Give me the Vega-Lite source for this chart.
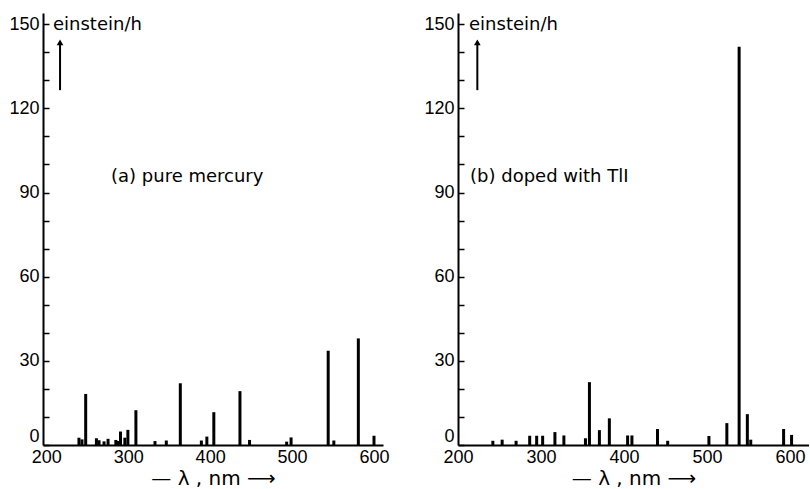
{
  "$schema": "https://vega.github.io/schema/vega-lite/v6.json",
  "padding": {"left": 8, "top": 13, "right": 0, "bottom": 0},
  "background": "white",
  "spacing": 33,
  "config": {
    "font": "Liberation Sans",
    "view": {"stroke": null},
    "axis": {
      "grid": false,
      "labelOverlap": false,
      "domainColor": "black",
      "domainWidth": 2,
      "tickColor": "black",
      "tickWidth": 1.5,
      "labelColor": "black",
      "labelFont": "Liberation Sans",
      "labelFontSize": 18,
      "titleFont": "DejaVu Sans",
      "titleFontSize": 20,
      "titleFontWeight": "normal",
      "titleColor": "black"
    }
  },
  "datasets": {
    "mercury": [
      {"nm": 239.9, "v": 2.6}, {"nm": 243.6, "v": 2.0}, {"nm": 248.1, "v": 18.2},
      {"nm": 261.2, "v": 2.4}, {"nm": 264.4, "v": 1.7}, {"nm": 270.5, "v": 1.3},
      {"nm": 275.4, "v": 2.2}, {"nm": 284.9, "v": 1.8}, {"nm": 287.0, "v": 1.4},
      {"nm": 290.6, "v": 4.8}, {"nm": 295.9, "v": 2.6}, {"nm": 299.6, "v": 5.4},
      {"nm": 309.4, "v": 12.4}, {"nm": 332.7, "v": 1.4}, {"nm": 346.5, "v": 1.6},
      {"nm": 363.6, "v": 22.0}, {"nm": 389.3, "v": 1.6}, {"nm": 396.0, "v": 3.0},
      {"nm": 404.5, "v": 11.7}, {"nm": 436.4, "v": 19.2}, {"nm": 448.1, "v": 1.8},
      {"nm": 493.4, "v": 1.2}, {"nm": 498.8, "v": 2.7}, {"nm": 544.1, "v": 33.6},
      {"nm": 551.0, "v": 1.6}, {"nm": 580.9, "v": 38.0}, {"nm": 600.0, "v": 3.3}
    ],
    "doped": [
      {"nm": 242.0, "v": 1.5}, {"nm": 253.2, "v": 1.9}, {"nm": 270.0, "v": 1.5},
      {"nm": 286.4, "v": 3.3}, {"nm": 294.8, "v": 3.3}, {"nm": 302.0, "v": 3.3},
      {"nm": 316.8, "v": 4.6}, {"nm": 327.6, "v": 3.4}, {"nm": 353.6, "v": 2.4},
      {"nm": 358.4, "v": 22.4}, {"nm": 370.4, "v": 5.3}, {"nm": 382.4, "v": 9.5},
      {"nm": 404.4, "v": 3.4}, {"nm": 409.6, "v": 3.4}, {"nm": 440.4, "v": 5.7},
      {"nm": 452.7, "v": 1.5}, {"nm": 502.4, "v": 3.2}, {"nm": 524.0, "v": 7.8},
      {"nm": 538.8, "v": 142.0}, {"nm": 548.7, "v": 11.0}, {"nm": 552.8, "v": 1.9},
      {"nm": 592.4, "v": 5.7}, {"nm": 602.0, "v": 3.6}
    ]
  },
  "hconcat": [
    {
      "width": 340,
      "height": 432,
      "resolve": {"axis": {"y": "independent"}},
      "layer": [
        {
          "data": {"name": "mercury"},
          "mark": {"type": "rule", "strokeWidth": 3, "color": "black"},
          "encoding": {
            "x": {
              "field": "nm", "type": "quantitative",
              "scale": {"domain": [196, 611], "nice": false, "zero": false},
              "axis": {"values": [200, 300, 400, 500, 600], "ticks": false, "labelPadding": 3, "labelFlush": false, "labelOverlap": false, "title": "— λ , nm ⟶", "titlePadding": 2}
            },
            "y": {
              "field": "v", "type": "quantitative",
              "scale": {"domain": [0, 154], "nice": false},
              "axis": {"orient": "left", "values": [0, 30, 60, 90, 120, 150], "labelOverlap": false, "tickSize": -6, "labelPadding": 10, "title": null,
                "labelBaseline": {"condition": {"test": "datum.value === 0", "value": "bottom"}, "value": "middle"}}
            },
            "y2": {"datum": 0}
          }
        },
        {
          "data": {"values": [{}]},
          "mark": {"type": "text", "align": "left", "baseline": "middle", "fontSize": 18, "font": "DejaVu Sans", "color": "black"},
          "encoding": {"x": {"datum": 208.2}, "y": {"datum": 149.6, "axis": null}, "text": {"value": "einstein/h"}}
        },
        {
          "data": {"values": [{}]},
          "mark": {"type": "rule", "strokeWidth": 2, "color": "black"},
          "encoding": {
            "x": {"datum": 216.8},
            "y": {"datum": 126.5, "axis": {"orient": "left", "values": [10, 20, 40, 50, 70, 80, 100, 110, 130, 140], "labels": false, "domain": false, "tickSize": -6, "title": null}},
            "y2": {"datum": 143}
          }
        },
        {
          "data": {"values": [{}]},
          "mark": {"type": "point", "shape": "triangle-up", "filled": true, "size": 45, "opacity": 1, "color": "black"},
          "encoding": {"x": {"datum": 216.8}, "y": {"datum": 143.5, "axis": null}}
        },
        {
          "data": {"values": [{}]},
          "mark": {"type": "text", "align": "left", "baseline": "middle", "fontSize": 18, "font": "DejaVu Sans", "color": "black"},
          "encoding": {"x": {"datum": 279}, "y": {"datum": 95.5, "axis": null}, "text": {"value": "(a) pure mercury"}}
        }
      ]
    },
    {
      "width": 351,
      "height": 432,
      "resolve": {"axis": {"y": "independent"}},
      "layer": [
        {
          "data": {"name": "doped"},
          "mark": {"type": "rule", "strokeWidth": 3, "color": "black"},
          "encoding": {
            "x": {
              "field": "nm", "type": "quantitative",
              "scale": {"domain": [200, 623], "nice": false, "zero": false},
              "axis": {"values": [200, 300, 400, 500, 600], "ticks": false, "labelPadding": 3, "labelFlush": false, "labelOverlap": false, "title": "— λ , nm ⟶", "titlePadding": 2}
            },
            "y": {
              "field": "v", "type": "quantitative",
              "scale": {"domain": [0, 154], "nice": false},
              "axis": {"orient": "left", "values": [0, 30, 60, 90, 120, 150], "labelOverlap": false, "tickSize": -6, "labelPadding": 10, "title": null,
                "labelBaseline": {"condition": {"test": "datum.value === 0", "value": "bottom"}, "value": "middle"}}
            },
            "y2": {"datum": 0}
          }
        },
        {
          "data": {"values": [{}]},
          "mark": {"type": "text", "align": "left", "baseline": "middle", "fontSize": 18, "font": "DejaVu Sans", "color": "black"},
          "encoding": {"x": {"datum": 213.3}, "y": {"datum": 149.6, "axis": null}, "text": {"value": "einstein/h"}}
        },
        {
          "data": {"values": [{}]},
          "mark": {"type": "rule", "strokeWidth": 2, "color": "black"},
          "encoding": {
            "x": {"datum": 223.3},
            "y": {"datum": 126.5, "axis": {"orient": "left", "values": [10, 20, 40, 50, 70, 80, 100, 110, 130, 140], "labels": false, "domain": false, "tickSize": -6, "title": null}},
            "y2": {"datum": 143}
          }
        },
        {
          "data": {"values": [{}]},
          "mark": {"type": "point", "shape": "triangle-up", "filled": true, "size": 45, "opacity": 1, "color": "black"},
          "encoding": {"x": {"datum": 223.3}, "y": {"datum": 143.5, "axis": null}}
        },
        {
          "data": {"values": [{}]},
          "mark": {"type": "text", "align": "left", "baseline": "middle", "fontSize": 18, "font": "DejaVu Sans", "color": "black"},
          "encoding": {"x": {"datum": 214.5}, "y": {"datum": 95.5, "axis": null}, "text": {"value": "(b) doped with TlI"}}
        }
      ]
    }
  ]
}
